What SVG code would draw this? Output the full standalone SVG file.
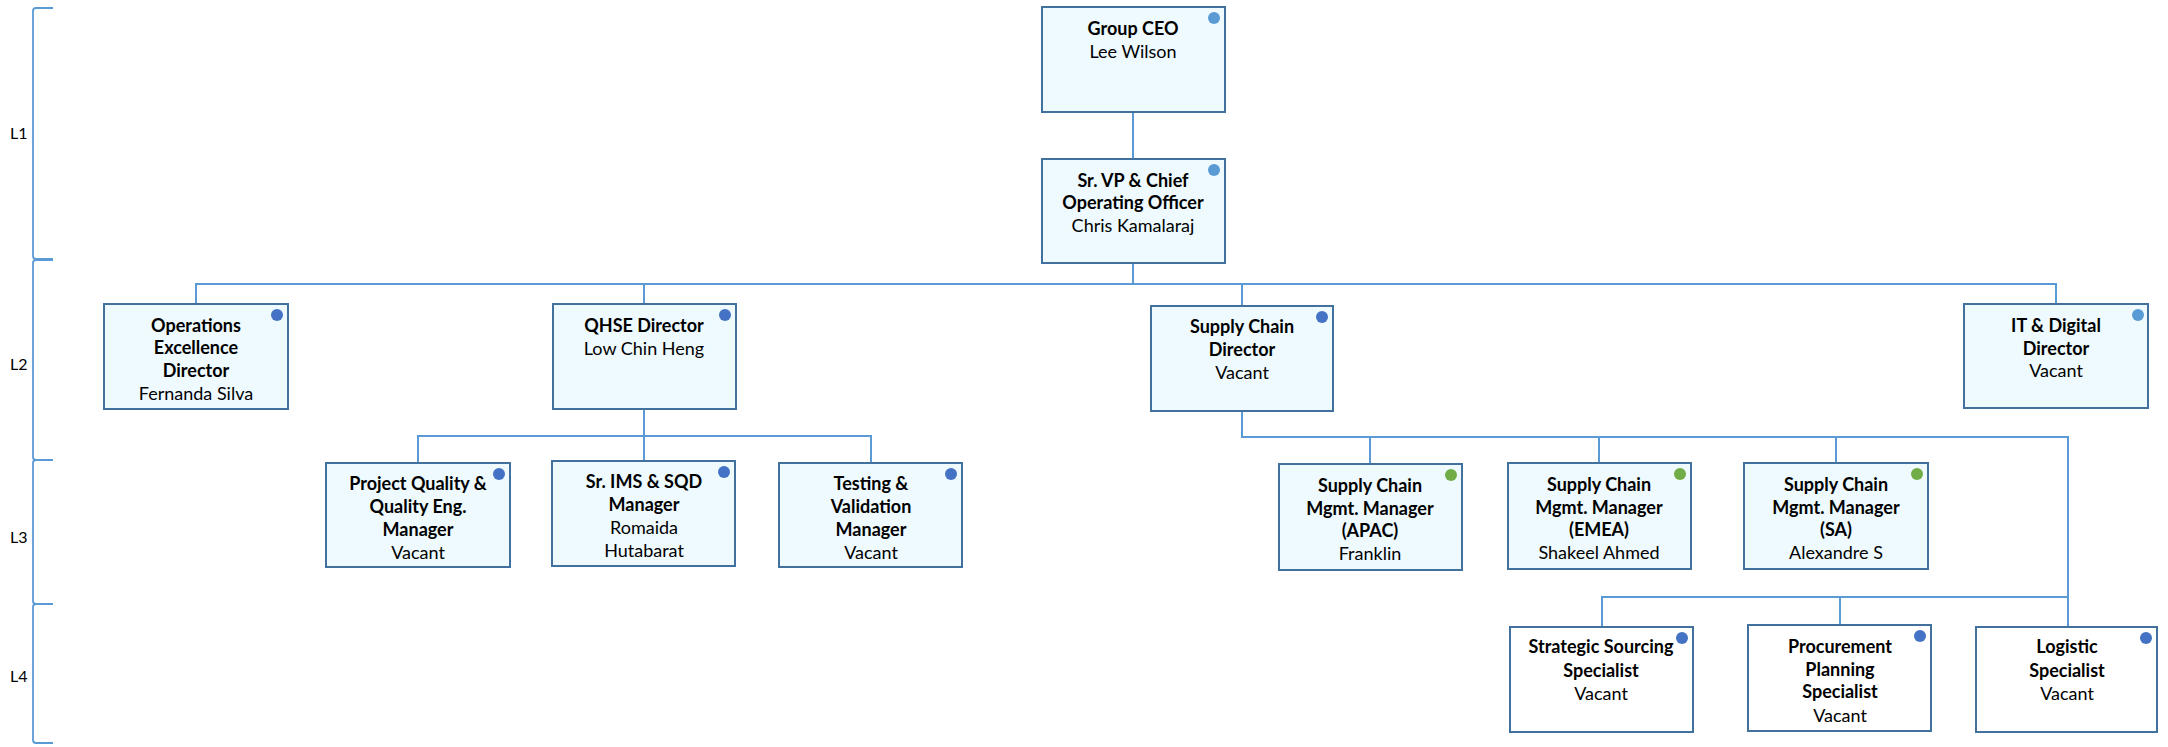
<svg xmlns="http://www.w3.org/2000/svg" width="2168" height="747" viewBox="0 0 2168 747">
<style>
.box{fill:#EEFAFE;stroke:#41719C;stroke-width:2}
.box.w{fill:#FFFFFF}
.con{fill:none;stroke:#5B9BD5;stroke-width:2}
.br{fill:none;stroke:#5B9BD5;stroke-width:1.8}
.t{font-family:Lato,"Liberation Sans",sans-serif;font-size:18px;fill:#000;text-anchor:middle}
.b{font-weight:bold}
.lv{font-family:Lato,"Liberation Sans",sans-serif;font-size:16px;fill:#000}
.dl{fill:#5B9BD5}
.dd{fill:#4472C4}
.dg{fill:#70AD47}
</style>
<rect width="2168" height="747" fill="#FFFFFF"/>
<g id="levels">
<path class="br" d="M53,8 H36 Q33,8 33,11 V256 Q33,259 36,259 H53"/>
<path class="br" d="M53,260 H36 Q33,260 33,263 V457 Q33,460 36,460 H53"/>
<path class="br" d="M53,460 H36 Q33,460 33,463 V601 Q33,604 36,604 H53"/>
<path class="br" d="M53,604 H36 Q33,604 33,607 V740 Q33,743 36,743 H53"/>
<text class="lv" x="10" y="139">L1</text>
<text class="lv" x="10" y="370">L2</text>
<text class="lv" x="10" y="543">L3</text>
<text class="lv" x="10" y="682">L4</text>
</g>
<g id="connectors">
<path class="con" d="M1133,112 V159"/>
<path class="con" d="M1133,263 V284"/>
<path class="con" d="M196,304 V284 H2056 V304"/>
<path class="con" d="M644,284 V304"/>
<path class="con" d="M1242,284 V306"/>
<path class="con" d="M644,409 V436"/>
<path class="con" d="M418,463 V436 H871 V463"/>
<path class="con" d="M644,436 V461"/>
<path class="con" d="M1242,411 V437 H2068 V627"/>
<path class="con" d="M1370,437 V464"/>
<path class="con" d="M1599,437 V463"/>
<path class="con" d="M1836,437 V463"/>
<path class="con" d="M1602,627 V597 H2068"/>
<path class="con" d="M1840,597 V625"/>
</g>
<g id="ceo">
<rect class="box" x="1042" y="7" width="183" height="105"/>
<circle class="dl" cx="1214" cy="18" r="6"/>
<text class="t b" x="1133" y="35">Group CEO</text>
<text class="t" x="1133" y="58">Lee Wilson</text>
</g>
<g id="coo">
<rect class="box" x="1042" y="159" width="183" height="104"/>
<circle class="dl" cx="1214" cy="170" r="6"/>
<text class="t b" x="1133" y="187">Sr. VP &amp; Chief</text>
<text class="t b" x="1133" y="209">Operating Officer</text>
<text class="t" x="1133" y="232">Chris Kamalaraj</text>
</g>
<g id="ops">
<rect class="box" x="104" y="304" width="184" height="105"/>
<circle class="dd" cx="277" cy="315" r="6"/>
<text class="t b" x="196" y="332">Operations</text>
<text class="t b" x="196" y="354">Excellence</text>
<text class="t b" x="196" y="377">Director</text>
<text class="t" x="196" y="400">Fernanda Silva</text>
</g>
<g id="qhse">
<rect class="box" x="553" y="304" width="183" height="105"/>
<circle class="dd" cx="725" cy="315" r="6"/>
<text class="t b" x="644" y="332">QHSE Director</text>
<text class="t" x="644" y="355">Low Chin Heng</text>
</g>
<g id="scd">
<rect class="box" x="1151" y="306" width="182" height="105"/>
<circle class="dd" cx="1322" cy="317" r="6"/>
<text class="t b" x="1242" y="333">Supply Chain</text>
<text class="t b" x="1242" y="356">Director</text>
<text class="t" x="1242" y="379">Vacant</text>
</g>
<g id="it">
<rect class="box" x="1964" y="304" width="184" height="104"/>
<circle class="dl" cx="2138" cy="315" r="6"/>
<text class="t b" x="2056" y="332">IT &amp; Digital</text>
<text class="t b" x="2056" y="355">Director</text>
<text class="t" x="2056" y="377">Vacant</text>
</g>
<g id="pq">
<rect class="box" x="326" y="463" width="184" height="104"/>
<circle class="dd" cx="499" cy="474" r="6"/>
<text class="t b" x="418" y="490">Project Quality &amp;</text>
<text class="t b" x="418" y="513">Quality Eng.</text>
<text class="t b" x="418" y="536">Manager</text>
<text class="t" x="418" y="559">Vacant</text>
</g>
<g id="ims">
<rect class="box" x="552" y="461" width="183" height="105"/>
<circle class="dd" cx="724" cy="472" r="6"/>
<text class="t b" x="644" y="488">Sr. IMS &amp; SQD</text>
<text class="t b" x="644" y="511">Manager</text>
<text class="t" x="644" y="534">Romaida</text>
<text class="t" x="644" y="557">Hutabarat</text>
</g>
<g id="testing">
<rect class="box" x="779" y="463" width="183" height="104"/>
<circle class="dd" cx="951" cy="474" r="6"/>
<text class="t b" x="871" y="490">Testing &amp;</text>
<text class="t b" x="871" y="513">Validation</text>
<text class="t b" x="871" y="536">Manager</text>
<text class="t" x="871" y="559">Vacant</text>
</g>
<g id="apac">
<rect class="box" x="1279" y="464" width="183" height="106"/>
<circle class="dg" cx="1451" cy="475" r="6"/>
<text class="t b" x="1370" y="492">Supply Chain</text>
<text class="t b" x="1370" y="515">Mgmt. Manager</text>
<text class="t b" x="1370" y="537">(APAC)</text>
<text class="t" x="1370" y="560">Franklin</text>
</g>
<g id="emea">
<rect class="box" x="1508" y="463" width="183" height="106"/>
<circle class="dg" cx="1680" cy="474" r="6"/>
<text class="t b" x="1599" y="491">Supply Chain</text>
<text class="t b" x="1599" y="514">Mgmt. Manager</text>
<text class="t b" x="1599" y="536">(EMEA)</text>
<text class="t" x="1599" y="559">Shakeel Ahmed</text>
</g>
<g id="sa">
<rect class="box" x="1744" y="463" width="184" height="106"/>
<circle class="dg" cx="1917" cy="474" r="6"/>
<text class="t b" x="1836" y="491">Supply Chain</text>
<text class="t b" x="1836" y="514">Mgmt. Manager</text>
<text class="t b" x="1836" y="536">(SA)</text>
<text class="t" x="1836" y="559">Alexandre S</text>
</g>
<g id="sss">
<rect class="box w" x="1510" y="627" width="183" height="105"/>
<circle class="dd" cx="1682" cy="638" r="6"/>
<text class="t b" x="1601" y="653">Strategic Sourcing</text>
<text class="t b" x="1601" y="677">Specialist</text>
<text class="t" x="1601" y="700">Vacant</text>
</g>
<g id="pps">
<rect class="box w" x="1748" y="625" width="183" height="106"/>
<circle class="dd" cx="1920" cy="636" r="6"/>
<text class="t b" x="1840" y="653">Procurement</text>
<text class="t b" x="1840" y="676">Planning</text>
<text class="t b" x="1840" y="698">Specialist</text>
<text class="t" x="1840" y="722">Vacant</text>
</g>
<g id="log">
<rect class="box w" x="1976" y="627" width="181" height="105"/>
<circle class="dd" cx="2146" cy="638" r="6"/>
<text class="t b" x="2067" y="653">Logistic</text>
<text class="t b" x="2067" y="677">Specialist</text>
<text class="t" x="2067" y="700">Vacant</text>
</g>
</svg>
